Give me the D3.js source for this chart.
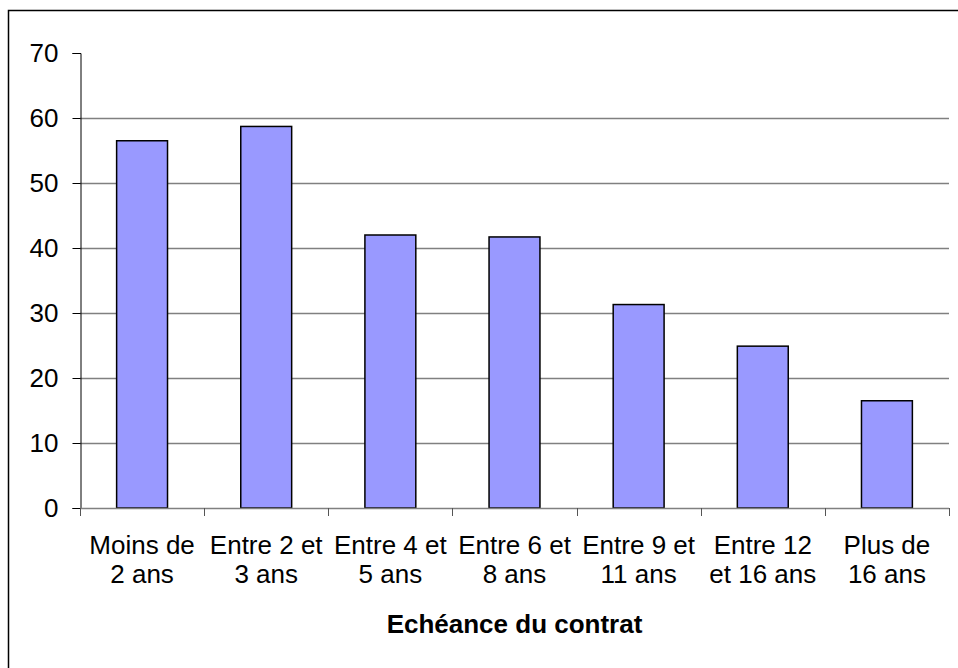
<!DOCTYPE html>
<html>
<head>
<meta charset="utf-8">
<script src="https://cdn.jsdelivr.net/npm/d3@7"></script>
<style>
  html, body { margin: 0; padding: 0; background: #fff; overflow: hidden; }
  svg { display: block; font-family: Arial, "Liberation Sans", sans-serif; }
</style>
</head>
<body>
<svg id="chart" width="958" height="668"></svg>
<script>
// Contract maturity buckets (two-line labels) and their values
const categories = [
  ["Moins de", "2 ans"],
  ["Entre 2 et", "3 ans"],
  ["Entre 4 et", "5 ans"],
  ["Entre 6 et", "8 ans"],
  ["Entre 9 et", "11 ans"],
  ["Entre 12", "et 16 ans"],
  ["Plus de", "16 ans"]
];
const values = [56.5, 58.7, 42.0, 41.7, 31.3, 24.9, 16.5];
const yTicks = [0, 10, 20, 30, 40, 50, 60, 70];
const axisTitle = "Echéance du contrat";

const svg = d3.select("#chart");
const plotLeft = 80, plotRight = 949, plotTop = 53, plotBottom = 508;

// Outer chart frame (runs past the right and bottom edges)
svg.append("rect")
  .attr("x", 8.5).attr("y", 10.5)
  .attr("width", 1000).attr("height", 700)
  .attr("fill", "none").attr("stroke", "#000").attr("stroke-width", 1.5);

const x = d3.scaleBand().domain(d3.range(categories.length)).range([plotLeft, plotRight]);
const y = d3.scaleLinear().domain([0, 70]).range([plotBottom, plotTop]);

// Horizontal gridlines
svg.append("g").selectAll("line")
  .data(yTicks.filter(d => d > 0 && d < 70))
  .join("line")
  .attr("x1", plotLeft).attr("x2", plotRight)
  .attr("y1", d => Math.round(y(d)) + 0.5).attr("y2", d => Math.round(y(d)) + 0.5)
  .attr("stroke", "#808080").attr("stroke-width", 1.5);

// Bars
const bw = x.bandwidth() * 0.41;
svg.append("g").selectAll("rect")
  .data(values)
  .join("rect")
  .attr("x", (d, i) => x(i) + (x.bandwidth() - bw) / 2)
  .attr("y", d => y(d))
  .attr("width", bw)
  .attr("height", d => y(0) - y(d))
  .attr("fill", "#9999FF")
  .attr("stroke", "#000").attr("stroke-width", 1.5);

// Y axis
const yAxis = d3.axisLeft(y).tickValues(yTicks).tickSize(8).tickPadding(14);
const gy = svg.append("g").attr("transform", `translate(${plotLeft + 0.5},0)`).call(yAxis);
gy.select(".domain").attr("stroke", "#000").attr("stroke-width", 1);
gy.selectAll(".tick line").attr("stroke", "#000");
gy.selectAll(".tick text")
  .attr("font-size", 26).attr("fill", "#000")
  .attr("font-family", "Arial, 'Liberation Sans', sans-serif");

// X axis baseline and category tick marks
const gx = svg.append("g");
gx.append("line")
  .attr("x1", plotLeft).attr("x2", plotRight)
  .attr("y1", plotBottom + 0.5).attr("y2", plotBottom + 0.5)
  .attr("stroke", "#808080").attr("stroke-width", 1.5);
const tickPos = d3.range(categories.length + 1).map(i => i < categories.length ? x(i) : plotRight);
gx.selectAll("line.tk")
  .data(tickPos)
  .join("line").attr("class", "tk")
  .attr("x1", d => Math.round(d) + 0.5).attr("x2", d => Math.round(d) + 0.5)
  .attr("y1", plotBottom).attr("y2", plotBottom + 8)
  .attr("stroke", "#555").attr("stroke-width", 1);

// Category labels
const lbl = svg.append("g").selectAll("text")
  .data(categories)
  .join("text")
  .attr("text-anchor", "middle")
  .attr("font-size", 26)
  .attr("fill", "#000");
lbl.selectAll("tspan")
  .data((d, i) => d.map((line, k) => ({ line, k, i })))
  .join("tspan")
  .attr("x", d => x(d.i) + x.bandwidth() / 2)
  .attr("y", d => 554 + d.k * 29)
  .text(d => d.line);

// Axis title
svg.append("text")
  .attr("x", (plotLeft + plotRight) / 2).attr("y", 633)
  .attr("text-anchor", "middle")
  .attr("font-size", 26).attr("font-weight", "bold")
  .attr("fill", "#000")
  .text(axisTitle);
</script>
</body>
</html>
